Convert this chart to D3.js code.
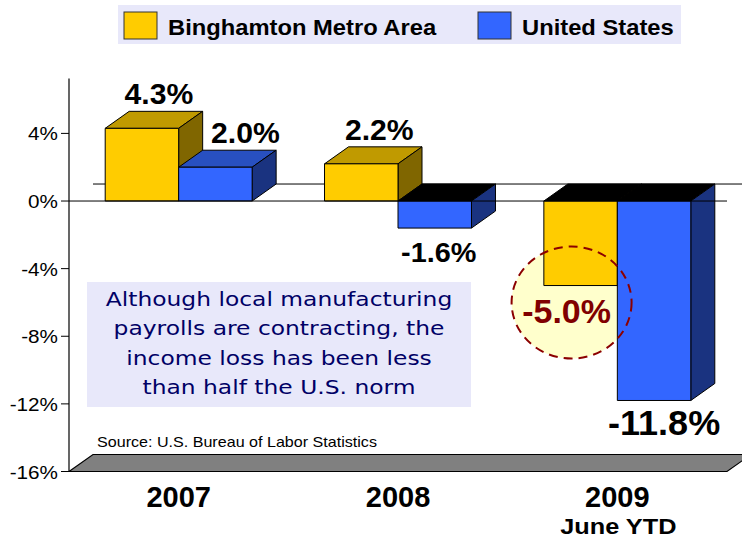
<!DOCTYPE html>
<html>
<head>
<meta charset='utf-8'>
<script src='https://d3js.org/d3.v7.min.js'></script>
<style>
  body { margin: 0; background: #fff; }
  svg { display: block; }
</style>
</head>
<body>
<script>
  // chart data
  var years = ['2007', '2008', '2009'];
  var yearNotes = ['', '', 'June YTD'];
  var seriesNames = ['Binghamton Metro Area', 'United States'];
  var binghamton = [4.3, 2.2, -5.0];
  var unitedStates = [2.0, -1.6, -11.8];
  var yTicks = [4, 0, -4, -8, -12, -16];
  var noteLines = ['Although local manufacturing', 'payrolls are contracting, the',
    'income loss has been less', 'than half the U.S. norm'];
  var sourceNote = 'Source:  U.S. Bureau of Labor Statistics';

  'use strict';
  var width = 742, height = 538;
  var arial = 'Arial, "Liberation Sans", sans-serif';
  var verdana = 'Verdana, "DejaVu Sans", sans-serif';
  var dx = 24, dy = -17; // 3d depth offset

  var colors = [
    { front: '#ffcc00', top: '#c09a00', side: '#806600' },
    { front: '#3366ff', top: '#2850c0', side: '#1a3380' }
  ];

  var svg = d3.select('body').append('svg')
    .attr('width', width)
    .attr('height', height);

  // text with a bit of horizontal stretch like the original slide
  function txt(parent, x, y, s, size, weight, anchor, sx, fill, family) {
    return parent.append('text')
      .attr('transform', 'translate(' + x + ',' + y + ') scale(' + (sx || 1) + ',1)')
      .attr('text-anchor', anchor || 'start')
      .style('font-family', family || arial)
      .style('font-size', size + 'px')
      .style('font-weight', weight || 'normal')
      .style('fill', fill || '#000')
      .text(s);
  }

  var y = d3.scaleLinear().domain([-16, 4]).range([471.5, 133.4]);
  var x0 = d3.scaleBand().domain(years).range([69, 727])
    .paddingInner(0.33).paddingOuter(0.165);
  var x1 = d3.scaleBand().domain(seriesNames).range([0, x0.bandwidth()]);

  var rows = years.map(function(yr, i) {
    return { year: yr, vals: [binghamton[i], unitedStates[i]] };
  });

  // back zero line
  svg.append('line')
    .attr('x1', 69 + dx).attr('x2', width)
    .attr('y1', y(0) + dy).attr('y2', y(0) + dy)
    .attr('stroke', '#000').attr('stroke-width', 1);

  // floor
  var fy = y(-16);
  svg.append('polygon')
    .attr('points', [[69, fy], [69 + dx, fy + dy], [727 + dx, fy + dy], [727, fy]].join(' '))
    .attr('fill', '#808080').attr('stroke', '#000').attr('stroke-width', 1.2);

  // highlight circle fill (behind bars)
  var hx = x0('2009') + x1.bandwidth() / 2 - 9;
  var hy = y(binghamton[2]) + 17;
  svg.append('ellipse')
    .attr('cx', hx).attr('cy', hy).attr('rx', 60).attr('ry', 56)
    .attr('fill', '#ffffcc');

  // bars
  var bars = svg.append('g');
  rows.forEach(function(r) {
    r.vals.forEach(function(v, s) {
      var xa = x0(r.year) + x1(seriesNames[s]);
      var xb = xa + x1.bandwidth();
      var yt = y(Math.max(v, 0));
      var yb = y(Math.min(v, 0));
      var c = colors[s];
      var g = bars.append('g').attr('stroke', '#000').attr('stroke-width', 1)
        .attr('stroke-linejoin', 'round');
      g.append('polygon')
        .attr('points', [[xa, yt], [xa + dx, yt + dy], [xb + dx, yt + dy], [xb, yt]].join(' '))
        .attr('fill', v >= 0 ? c.top : '#000');
      g.append('polygon')
        .attr('points', [[xb, yt], [xb + dx, yt + dy], [xb + dx, yb + dy], [xb, yb]].join(' '))
        .attr('fill', c.side);
      g.append('rect')
        .attr('x', xa).attr('y', yt)
        .attr('width', xb - xa).attr('height', yb - yt)
        .attr('fill', c.front);
    });
  });

  // front zero line and y axis
  svg.append('line')
    .attr('x1', 69).attr('x2', 727)
    .attr('y1', y(0)).attr('y2', y(0))
    .attr('stroke', '#000').attr('stroke-width', 1);
  svg.append('line')
    .attr('x1', 69).attr('x2', 69)
    .attr('y1', y(7.25)).attr('y2', y(-16))
    .attr('stroke', '#000').attr('stroke-width', 1.2);
  yTicks.forEach(function(t) {
    svg.append('line')
      .attr('x1', 61).attr('x2', 69)
      .attr('y1', y(t)).attr('y2', y(t))
      .attr('stroke', '#000');
    txt(svg, 58, y(t) + 7, t + '%', 18, 'normal', 'end', 1.15);
  });

  // dashed outline on top
  svg.append('ellipse')
    .attr('cx', hx).attr('cy', hy).attr('rx', 60).attr('ry', 56)
    .attr('fill', 'none').attr('stroke', '#8b0000')
    .attr('stroke-width', 2).attr('stroke-dasharray', '9,6');

  // value labels (hand nudged like the slide)
  var shift = [[17, 30], [18, 4], [-14, 10]];
  rows.forEach(function(r, i) {
    r.vals.forEach(function(v, s) {
      var cx = x0(r.year) + x1(seriesNames[s]) + x1.bandwidth() / 2 + shift[i][s];
      var lbl = v.toFixed(1) + '%';
      if (v >= 0) {
        txt(svg, cx, y(v) + dy - 7, lbl, 29, 'bold', 'middle', 1.04);
      } else if (i === 2 && s === 0) {
        txt(svg, cx, y(v) + 37, lbl, 34, 'bold', 'middle', 1.0, '#800000');
      } else {
        var big = v < -10;
        txt(svg, cx, y(v) + (big ? 35 : 34), lbl, big ? 35 : 28, 'bold', 'middle', 1.03);
      }
    });
  });

  // category labels
  years.forEach(function(yr, i) {
    var cx = x0(yr) + x0.bandwidth() / 2;
    txt(svg, cx, 507, yr, 29, 'bold', 'middle', 1.0);
    if (yearNotes[i]) txt(svg, cx + 1, 534, yearNotes[i], 22, 'bold', 'middle', 1.15);
  });

  // note box
  svg.append('rect')
    .attr('x', 87).attr('y', 282).attr('width', 384).attr('height', 125)
    .attr('fill', '#e8e8fa');
  noteLines.forEach(function(l, i) {
    txt(svg, 279, 306 + i * 29.3, l, 20, 'normal', 'middle', 1.17, '#000066', verdana);
  });

  txt(svg, 97, 447, sourceNote, 14, 'normal', 'start', 1.15);

  // legend
  var leg = svg.append('g');
  leg.append('rect')
    .attr('x', 118).attr('y', 5).attr('width', 563).attr('height', 39)
    .attr('fill', '#e8e8fa');
  var legX = [124, 478];
  seriesNames.forEach(function(n, i) {
    leg.append('rect')
      .attr('x', legX[i]).attr('y', 12).attr('width', 33).attr('height', 27)
      .attr('fill', colors[i].front).attr('stroke', '#333').attr('stroke-width', 1);
    txt(leg, legX[i] + 44, 35, n, 22, 'bold', 'start', 1.08);
  });
</script>
</body>
</html>
